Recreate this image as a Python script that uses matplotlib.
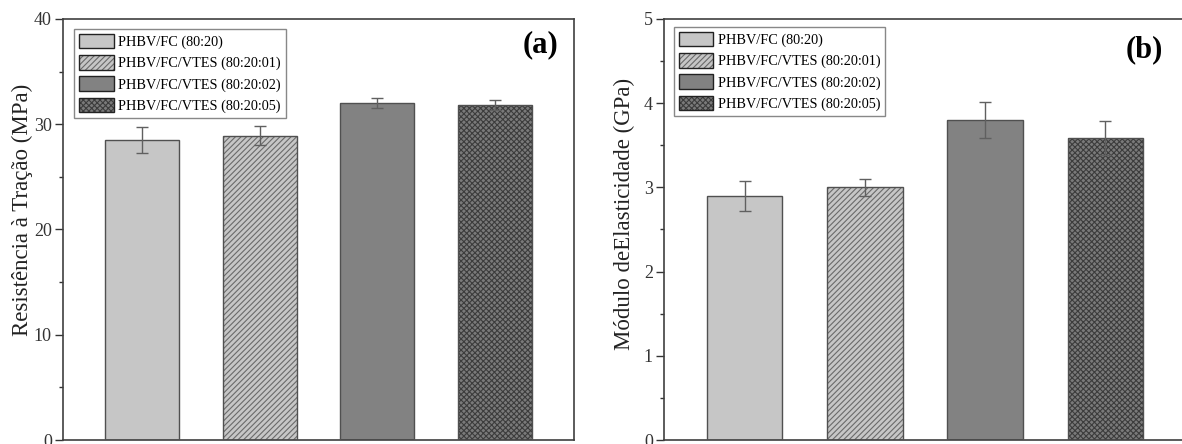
import matplotlib
matplotlib.use('Agg')
import matplotlib.pyplot as plt
from matplotlib.patches import Patch
from matplotlib.legend_handler import HandlerTuple

plt.rcParams['font.family'] = ['Liberation Serif', 'DejaVu Serif']
plt.rcParams['hatch.linewidth'] = 0.8

# data
labels = ['PHBV/FC (80:20)', 'PHBV/FC/VTES (80:20:01)',
          'PHBV/FC/VTES (80:20:02)', 'PHBV/FC/VTES (80:20:05)']
tensile = [28.5, 28.9, 32.0, 31.85]
tensile_err = [1.2, 0.9, 0.5, 0.45]
modulus = [2.90, 3.00, 3.80, 3.59]
modulus_err = [0.18, 0.10, 0.21, 0.20]

faces = ['#c6c6c6', '#c6c6c6', '#828282', '#7a7a7a']
hatches = ['', '//////', '', 'xxxxxx']
hatch_cols = ['#c6c6c6', '#6a6a6a', '#828282', '#3c3c3c']
edge = '#505050'


def draw_panel(ax, vals, errs, ymax, ylabel, label_xy, tag, tag_xy, leg_anchor):
    x = list(range(1, len(vals) + 1))
    for i in range(len(vals)):
        ax.bar(x[i], vals[i], width=0.63, color=faces[i], hatch=hatches[i],
               edgecolor=hatch_cols[i], linewidth=0, zorder=2)
        ax.bar(x[i], vals[i], width=0.63, fill=False, edgecolor=edge,
               linewidth=1.0, zorder=3)
    ax.errorbar(x, vals, yerr=errs, fmt='none', ecolor='#606060',
                elinewidth=1.0, capsize=4, capthick=1.0, zorder=4)
    ax.set_xlim(0.33, 4.67)
    ax.set_ylim(0, ymax)
    ax.set_xticks([])
    step = ymax / 4 if ymax == 40 else 1
    ax.set_yticks([i * step for i in range(int(ymax / step) + 1)])
    ax.set_yticks([(i + 0.5) * step for i in range(int(ymax / step))], minor=True)
    ax.tick_params(axis='y', which='major', direction='out', length=6,
                   width=1, colors='#333333', labelsize=13, pad=2)
    ax.tick_params(axis='y', which='minor', direction='out', length=3,
                   width=1, colors='#333333')
    ax.set_ylabel(ylabel, fontsize=16.5, color='#222222')
    ax.yaxis.set_label_coords(*label_xy)
    for s in ax.spines.values():
        s.set_color('#404040')
        s.set_linewidth(1.2)

    handles = []
    for i in range(len(vals)):
        h1 = Patch(facecolor=faces[i], hatch=hatches[i], edgecolor=hatch_cols[i], linewidth=0)
        h2 = Patch(fill=False, edgecolor='#222222', linewidth=1.0)
        handles.append((h1, h2))
    leg = ax.legend(handles, labels, handler_map={tuple: HandlerTuple(ndivide=1, pad=0)},
                    loc='upper left', bbox_to_anchor=leg_anchor, borderaxespad=0,
                    fontsize=10.3, handlelength=2.4, handleheight=1.2,
                    labelspacing=0.42, handletextpad=0.3, borderpad=0.35,
                    fancybox=False, framealpha=1)
    leg.get_frame().set_edgecolor('#888888')
    leg.get_frame().set_linewidth(1.0)
    ax.text(tag_xy[0], tag_xy[1], tag, transform=ax.transAxes, fontsize=22,
            fontweight='bold', ha='center', va='center')


fig = plt.figure(figsize=(11.82, 4.44), dpi=100)
ax1 = fig.add_axes([63 / 1182, 4 / 444, 511 / 1182, 421 / 444])
ax2 = fig.add_axes([664 / 1182, 4 / 444, 522 / 1182, 421 / 444])

draw_panel(ax1, tensile, tensile_err, 40, 'Resistência à Tração (MPa)', (-0.058, 0.546),
           '(a)', (0.935, 0.938), (0.022, 0.977))
draw_panel(ax2, modulus, modulus_err, 5, 'Módulo deElasticidade (GPa)', (-0.056, 0.537),
           '(b)', (0.921, 0.926), (0.019, 0.982))

fig.savefig('out.png', dpi=100)
